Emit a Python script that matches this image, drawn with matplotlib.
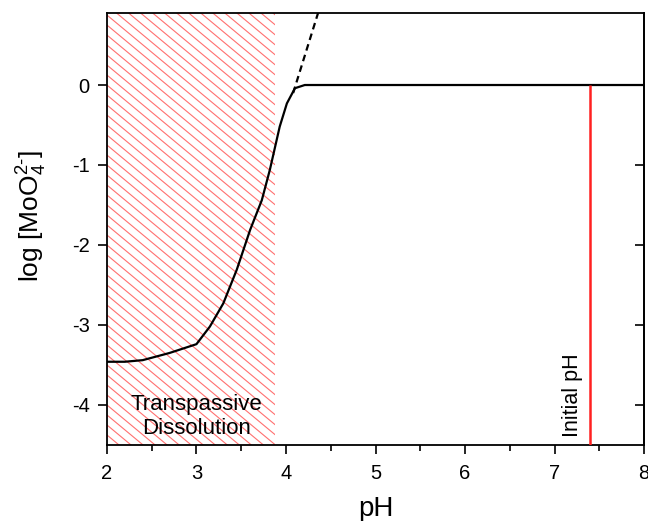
import numpy as np
import matplotlib as mpl
import matplotlib.pyplot as plt
from matplotlib.collections import LineCollection
from matplotlib.ticker import MultipleLocator

mpl.rcParams.update({
    "font.family": ["Liberation Sans", "DejaVu Sans"],
    "mathtext.fontset": "custom",
    "mathtext.rm": "Liberation Sans",
    "mathtext.it": "Liberation Sans:italic",
    "axes.unicode_minus": False,
    "axes.linewidth": 1.3,
})

# solubility curve
ph = [2.0, 2.2, 2.4, 2.7, 3.0, 3.15, 3.3, 3.45, 3.6, 3.73, 3.82, 3.93,
      4.01, 4.1, 4.21, 8.0]
log_moo4 = [-3.46, -3.46, -3.44, -3.35, -3.24, -3.02, -2.73, -2.31, -1.81,
            -1.44, -1.06, -0.52, -0.23, -0.04, 0.0, 0.0]

# dashed extrapolation of the steep branch
ph_ext = [4.08, 4.40]
log_ext = [-0.10, 1.05]

transpassive_ph = (2.0, 3.88)
initial_ph = 7.4

XLIM = (2, 8)
YLIM = (-4.5, 0.9)

fig = plt.figure(figsize=(6.48, 5.21), dpi=100)
ax = fig.add_axes([0.165, 0.146, 0.829, 0.829])
ax.set_xlim(*XLIM)
ax.set_ylim(*YLIM)

# hatched region: own diagonal lines (~40 deg on screen)
span = ax.axvspan(*transpassive_ph, facecolor="none", edgecolor="none",
                  linewidth=0, zorder=1)
slope = -0.93
step = 0.125
x0, x1 = transpassive_ph
segs = []
for c in np.arange(YLIM[0], YLIM[1] - slope * (x1 - x0) + step, step):
    segs.append([(x0, c), (x1, c + slope * (x1 - x0))])
hatch = LineCollection(segs, colors="#ff7070", linewidths=0.8, zorder=1)
ax.add_collection(hatch)
hatch.set_clip_path(span)

ax.plot(ph, log_moo4, color="black", lw=1.6, zorder=3)
ax.plot(ph_ext, log_ext, color="black", lw=1.6, ls=(0, (3, 2)), zorder=3)
ax.vlines(initial_ph, YLIM[0], 0, color="#ff2020", lw=1.8, zorder=3)

ax.text(3.0, -4.14, "Transpassive\nDissolution", fontsize=16,
        ha="center", va="center", linespacing=1.2, zorder=4)
ax.text(7.2, -3.88, "Initial pH", fontsize=15.5, rotation=90,
        ha="center", va="center", zorder=4)

ax.xaxis.set_major_locator(MultipleLocator(1))
ax.xaxis.set_minor_locator(MultipleLocator(0.5))
ax.yaxis.set_major_locator(MultipleLocator(1))
ax.tick_params(which="major", direction="out", length=6.5, width=1.2,
               labelsize=14.5)
ax.tick_params(axis="x", which="major", pad=7)
ax.tick_params(axis="y", which="major", pad=6)
ax.tick_params(which="minor", direction="out", length=4, width=1.2)
ax.tick_params(axis="y", which="minor", left=False)

sec = ax.secondary_yaxis("right")
sec.yaxis.set_major_locator(MultipleLocator(1))
sec.tick_params(direction="in", length=6.5, width=1.2, labelright=False)

ax.set_xlabel("pH", fontsize=20)
ax.xaxis.set_label_coords(0.5, -0.118)
ax.set_ylabel("log [MoO$_4^{2\u2010}$]", fontsize=19)
ax.yaxis.set_label_coords(-0.108, 0.53)

fig.savefig("out.png", dpi=100)
